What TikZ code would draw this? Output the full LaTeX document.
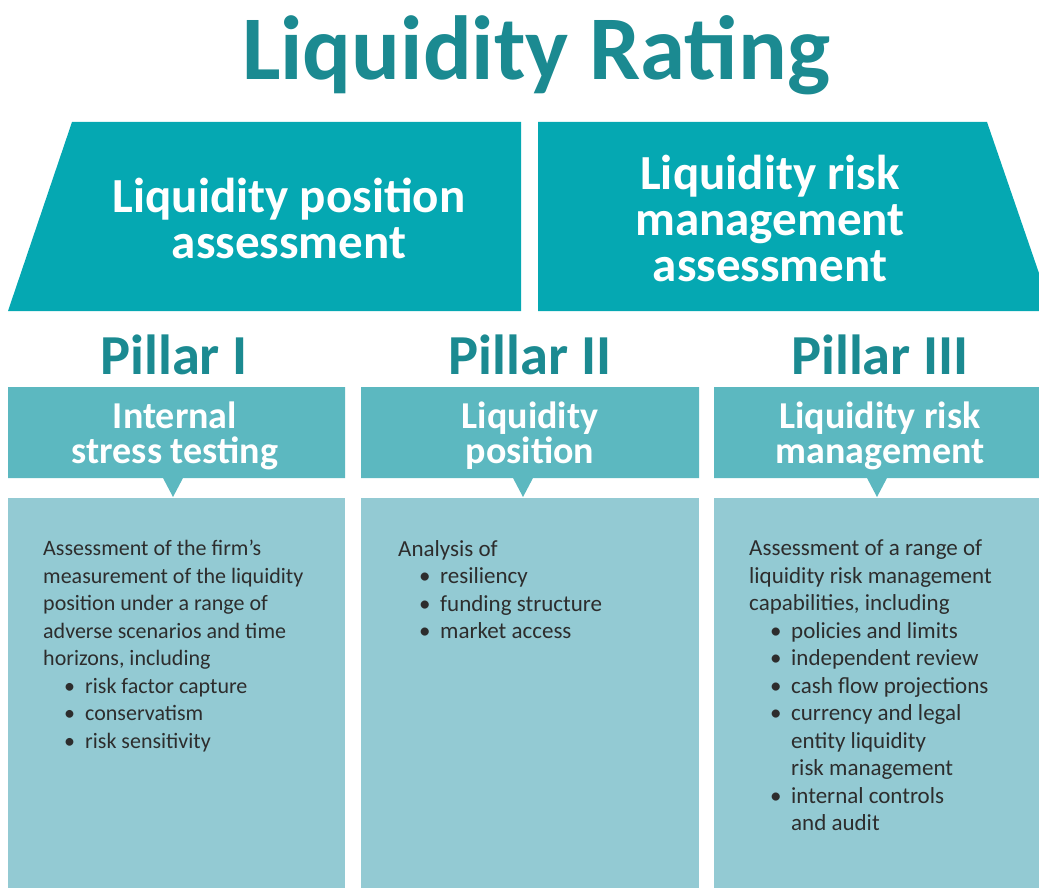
\documentclass[tikz,border=0pt]{standalone}
\usepackage{fontspec}
\setmainfont{Carlito}
\definecolor{titleteal}{RGB}{27,138,145}
\definecolor{bandteal}{RGB}{5,168,178}
\definecolor{headteal}{RGB}{92,184,192}
\definecolor{bodyteal}{RGB}{147,202,211}
\definecolor{bodytext}{RGB}{45,45,45}
\newcommand\itm[1]{\hspace*{21pt}\makebox[21pt][l]{\textbullet}#1}
\newcommand\cnt[1]{\hspace*{42pt}#1}
\begin{document}
\begin{tikzpicture}[x=1pt,y=-1pt,
  band/.style={fill=bandteal,draw=none},
  bandtext/.style={text=white,font=\fontsize{49}{46}\selectfont\bfseries,align=center,inner sep=0pt},
  pillar/.style={text=titleteal,font=\fontsize{56.5}{60}\selectfont\bfseries,inner sep=0pt,anchor=base},
  headbox/.style={fill=headteal,draw=none},
  headtext/.style={text=white,font=\fontsize{38}{35}\selectfont\bfseries,align=center,inner sep=0pt},
  bodybox/.style={fill=bodyteal,draw=none},
  bodytext/.style={text=bodytext,font=\fontsize{23}{27.5}\selectfont,align=left,inner sep=0pt,anchor=north west}]
\useasboundingbox (0,0) rectangle (1039,888);
\clip (0,0) rectangle (1039,888);

% title
\node[text=titleteal,font=\fontsize{91}{100}\selectfont\bfseries,inner sep=0pt,anchor=base] (title) at (536,80) {Liquidity Rating};

% two assessment bands
\fill[band] (72,122) -- (521,122) -- (521,311) -- (8,311) -- cycle;
\fill[band] (538,122) -- (987,122) -- (1052,311) -- (538,311) -- cycle;
\node[bandtext] (posassess) at (289,218) {Liquidity position\\assessment};
\node[bandtext] (riskassess) at (770,218) {Liquidity risk\\management\\assessment};

% pillar labels
\node[pillar] (p1) at (174,374) {Pillar I};
\node[pillar] (p2) at (530,374) {Pillar II};
\node[pillar] (p3) at (880,374) {Pillar III};

% pillar headers with pointers
\fill[headbox] (8,387) -- (345,387) -- (345,478) -- (183,478) -- (173,497) -- (163,478) -- (8,478) -- cycle;
\fill[headbox] (361,387) -- (699,387) -- (699,478) -- (533,478) -- (523,497) -- (513,478) -- (361,478) -- cycle;
\fill[headbox] (714,387) -- (1051,387) -- (1051,478) -- (887,478) -- (877,497) -- (867,478) -- (714,478) -- cycle;
\node[headtext] (h1) at (175,436) {Internal\\stress testing};
\node[headtext] (h2) at (530,436) {Liquidity\\position};
\node[headtext] (h3) at (880,436) {Liquidity risk\\management};

% body panels
\fill[bodybox] (8,498) rectangle (345,890);
\fill[bodybox] (361,498) rectangle (699,890);
\fill[bodybox] (714,498) rectangle (1051,890);

\node[bodytext,font=\fontsize{22}{27.5}\selectfont] (b1) at (43,540) {Assessment of the firm’s\\
measurement of the liquidity\\
position under a range of\\
adverse scenarios and time\\
horizons, including\\
\itm{risk factor capture}\\
\itm{conservatism}\\
\itm{risk sensitivity}};

\node[bodytext] (b2) at (398,540) {Analysis of\\
\itm{resiliency}\\
\itm{funding structure}\\
\itm{market access}};

\node[bodytext] (b3) at (749,540) {Assessment of a range of\\
liquidity risk management\\
capabilities, including\\
\itm{policies and limits}\\
\itm{independent review}\\
\itm{cash flow projections}\\
\itm{currency and legal}\\
\cnt{entity liquidity}\\
\cnt{risk management}\\
\itm{internal controls}\\
\cnt{and audit}};
\end{tikzpicture}
\end{document}
